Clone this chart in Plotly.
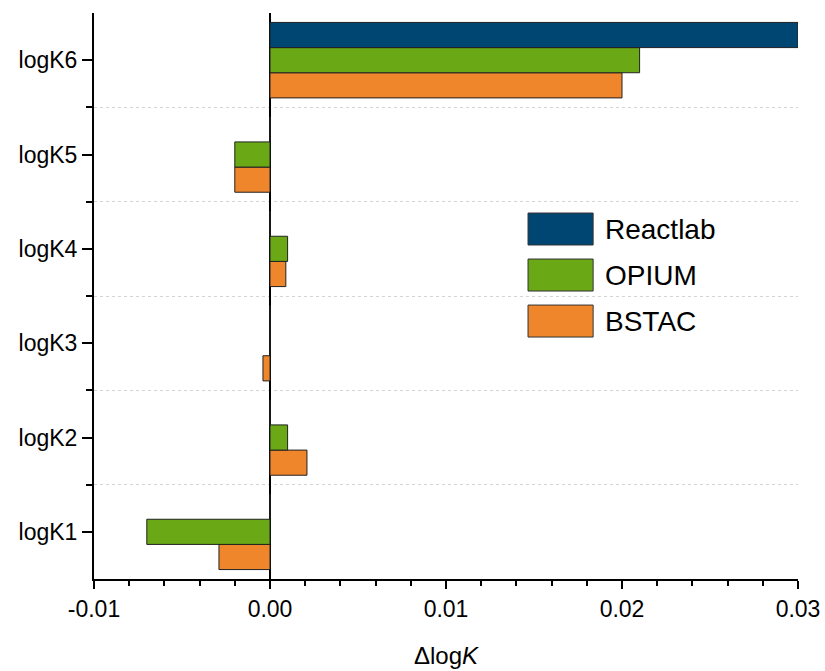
import plotly.graph_objects as go

categories = ["logK1", "logK2", "logK3", "logK4", "logK5", "logK6"]
series_names = ["Reactlab", "OPIUM", "BSTAC"]
reactlab = [0, 0, 0, 0, 0, 0.030]
opium = [-0.0070, 0.0010, 0, 0.0010, -0.0020, 0.0210]
bstac = [-0.0029, 0.0021, -0.0004, 0.0009, -0.0020, 0.0200]
x_tick_vals = [-0.01, 0.00, 0.01, 0.02, 0.03]
x_tick_text = ["-0.01", "0.00", "0.01", "0.02", "0.03"]

colors = {"Reactlab": "#004673", "OPIUM": "#6aa816", "BSTAC": "#f0862b"}
values = {"Reactlab": reactlab, "OPIUM": opium, "BSTAC": bstac}
ypos = list(range(len(categories)))
FONT = "Liberation Sans, Arial, sans-serif"

fig = go.Figure()
# Plotly groups horizontal bars bottom-to-top, so add in reverse order
for name in reversed(series_names):
    fig.add_trace(go.Bar(
        y=ypos, x=values[name], orientation="h", name=name,
        marker=dict(color=colors[name], line=dict(color="#222222", width=1)),
        showlegend=False,
    ))

fig.update_layout(
    width=825, height=671,
    margin=dict(l=94, r=27, t=13, b=92),
    paper_bgcolor="white", plot_bgcolor="white",
    barmode="group", bargap=0.2, bargroupgap=0,
    font=dict(family=FONT, size=23, color="black"),
)
fig.update_xaxes(
    automargin=False,
    range=[-0.01, 0.03],
    tickmode="array", tickvals=x_tick_vals, ticktext=x_tick_text,
    ticks="outside", ticklen=8, tickwidth=2, tickcolor="black",
    minor=dict(tickmode="linear", tick0=-0.01, dtick=0.002, ticks="outside",
               ticklen=5, tickwidth=2, tickcolor="black", showgrid=False),
    showline=True, linecolor="black", linewidth=2,
    showgrid=False,
    zeroline=True, zerolinecolor="black", zerolinewidth=2,
    tickfont=dict(size=23),
    title=dict(text="ΔlogK".replace("K", "<i>K</i>"), font=dict(size=24), standoff=27),
)
fig.update_yaxes(
    automargin=False,
    range=[-0.5, 5.5],
    tickmode="array", tickvals=ypos, ticktext=categories,
    ticks="outside", ticklen=10, tickwidth=2, tickcolor="black",
    minor=dict(tickvals=[p + 0.5 for p in ypos[:-1]], ticks="outside",
               ticklen=6, tickwidth=2, tickcolor="black",
               showgrid=True, gridcolor="#d4d4d4", griddash="dot", gridwidth=1),
    showline=True, linecolor="black", linewidth=2,
    showgrid=False, zeroline=False,
    tickfont=dict(size=23),
)

# Custom legend (large swatches)
lx0, bw, bh, ytop, step = 0.6165, 0.0925, 0.0565, 0.6466, 0.0813
for i, name in enumerate(series_names):
    y1 = ytop - i * step
    fig.add_shape(type="rect", xref="paper", yref="paper",
                  x0=lx0, x1=lx0 + bw, y0=y1 - bh, y1=y1,
                  fillcolor=colors[name], line=dict(color="#333333", width=1))
    fig.add_annotation(xref="paper", yref="paper", x=lx0 + bw + 0.0135, y=y1 - bh / 2,
                       text=name, showarrow=False, xanchor="left", yanchor="middle",
                       font=dict(size=28, family=FONT, color="black"))

fig.write_html(
    "out.html",
    config={"displayModeBar": False},
    post_script="document.body.style.margin='0';document.body.style.overflow='hidden';",
)
